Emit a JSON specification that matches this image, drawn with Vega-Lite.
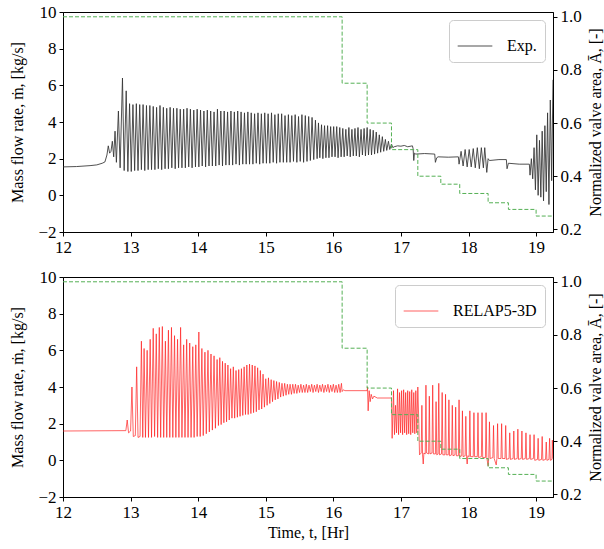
{
  "$schema": "https://vega.github.io/schema/vega-lite/v6.json",
  "padding": {"left": 9, "top": 2, "right": 2, "bottom": 5},
  "spacing": 11,
  "config": {
    "font": "Liberation Serif",
    "style": {"guide-label": {"font": "Liberation Serif", "fontSize": 16}, "guide-title": {"font": "Liberation Serif", "fontSize": 16}},
    "view": {"stroke": "black", "strokeWidth": 1},
    "axis": {"labelFont": "Liberation Serif", "titleFont": "Liberation Serif", "domainColor": "black", "domainWidth": 1, "tickColor": "black", "tickSize": 4, "tickWidth": 1, "labelFontSize": 16, "labelColor": "black", "titleFontSize": 16, "titleFontWeight": "normal", "titleColor": "black", "labelFlush": false, "labelOverlap": false, "grid": false, "labelPadding": 3},
    "legend": {"orient": "top-right", "offset": 8, "strokeColor": "#cccccc", "cornerRadius": 4, "fillColor": "white", "padding": 8, "labelFontSize": 16, "labelFont": "Liberation Serif", "labelColor": "black", "symbolType": "stroke", "symbolSize": 1200, "symbolStrokeWidth": 1.2, "labelOffset": 14}
  },
  "resolve": {"scale": {"color": "independent"}, "legend": {"color": "independent"}},
  "datasets": {
    "valve": [{"t":12,"a":1.0},{"t":16.13,"a":0.75},{"t":16.5,"a":0.6},{"t":16.86,"a":0.5},{"t":17.25,"a":0.4},{"t":17.59,"a":0.37},{"t":17.87,"a":0.335},{"t":18.29,"a":0.3},{"t":18.59,"a":0.275},{"t":19.0,"a":0.25},{"t":19.25,"a":0.25}],
    "exp": [{"t":12.0,"m":1.55},{"t":12.2,"m":1.57},{"t":12.4,"m":1.62},{"t":12.5,"m":1.66},{"t":12.58,"m":1.75},{"t":12.62,"m":1.82},{"t":12.65,"m":2.2},{"t":12.67,"m":2.7},{"t":12.69,"m":2.3},{"t":12.71,"m":2.4},{"t":12.73,"m":2.95},{"t":12.75,"m":2.1},{"t":12.77,"m":3.5},{"t":12.79,"m":1.8},{"t":12.82,"m":4.6},{"t":12.845,"m":1.5},{"t":12.88,"m":6.4},{"t":12.905,"m":1.35},{"t":12.935,"m":5.7},{"t":12.96,"m":1.3},
      {"t":12.985,"m":5.0},{"t":13.01,"m":1.3},{"t":13.035,"m":4.95},{"t":13.06,"m":1.35},{"t":13.085,"m":5.0},{"t":13.11,"m":1.35},{"t":13.135,"m":4.95},{"t":13.16,"m":1.4},{"t":13.185,"m":4.95},{"t":13.21,"m":1.35},{"t":13.235,"m":4.9},{"t":13.26,"m":1.4},{"t":13.285,"m":4.9},{"t":13.31,"m":1.4},{"t":13.335,"m":4.85},{"t":13.36,"m":1.4},{"t":13.385,"m":4.8},{"t":13.41,"m":1.45},{"t":13.435,"m":4.9},{"t":13.46,"m":1.4},{"t":13.485,"m":4.8},{"t":13.51,"m":1.45},{"t":13.535,"m":4.75},{"t":13.56,"m":1.45},{"t":13.585,"m":4.8},{"t":13.61,"m":1.5},{"t":13.635,"m":4.75},{"t":13.66,"m":1.45},{"t":13.685,"m":4.75},{"t":13.71,"m":1.5},{"t":13.735,"m":4.7},{"t":13.76,"m":1.5},{"t":13.785,"m":4.7},{"t":13.81,"m":1.5},{"t":13.835,"m":4.75},{"t":13.86,"m":1.55},{"t":13.885,"m":4.7},{"t":13.91,"m":1.5},{"t":13.935,"m":4.65},{"t":13.96,"m":1.55},{"t":13.985,"m":4.7},{"t":14.01,"m":1.55},{"t":14.035,"m":4.65},{"t":14.06,"m":1.6},{"t":14.085,"m":4.6},{"t":14.11,"m":1.55},{"t":14.135,"m":4.65},{"t":14.16,"m":1.6},{"t":14.185,"m":4.6},{"t":14.21,"m":1.6},{"t":14.235,"m":4.55},{"t":14.26,"m":1.6},{"t":14.285,"m":4.7},{"t":14.31,"m":1.65},{"t":14.335,"m":4.6},{"t":14.36,"m":1.6},{"t":14.385,"m":4.6},{"t":14.41,"m":1.65},{"t":14.435,"m":4.55},{"t":14.46,"m":1.65},{"t":14.485,"m":4.6},{"t":14.51,"m":1.65},{"t":14.535,"m":4.55},{"t":14.56,"m":1.7},{"t":14.585,"m":4.6},{"t":14.61,"m":1.65},{"t":14.635,"m":4.55},{"t":14.66,"m":1.7},{"t":14.685,"m":4.5},{"t":14.71,"m":1.7},{"t":14.735,"m":4.55},{"t":14.76,"m":1.7},{"t":14.785,"m":4.5},{"t":14.81,"m":1.7},{"t":14.835,"m":4.45},{"t":14.86,"m":1.75},{"t":14.885,"m":4.5},{"t":14.91,"m":1.7},{"t":14.935,"m":4.45},{"t":14.96,"m":1.75},{"t":14.985,"m":4.5},{"t":15.01,"m":1.75},{"t":15.035,"m":4.45},{"t":15.06,"m":1.75},{"t":15.085,"m":4.5},{"t":15.11,"m":1.8},{"t":15.135,"m":4.4},{"t":15.16,"m":1.75},{"t":15.185,"m":4.45},{"t":15.21,"m":1.8},{"t":15.235,"m":4.45},{"t":15.26,"m":1.8},{"t":15.285,"m":4.35},{"t":15.31,"m":1.8},{"t":15.335,"m":4.4},{"t":15.36,"m":1.8},{"t":15.385,"m":4.35},{"t":15.41,"m":1.85},{"t":15.435,"m":4.4},{"t":15.46,"m":1.8},{"t":15.485,"m":4.3},{"t":15.51,"m":1.85},{"t":15.535,"m":4.4},{"t":15.56,"m":1.8},{"t":15.585,"m":4.35},{"t":15.61,"m":1.85},{"t":15.635,"m":4.3},{"t":15.66,"m":1.9},{"t":15.685,"m":4.25},{"t":15.71,"m":1.95},{"t":15.735,"m":4.1},{"t":15.76,"m":2.0},{"t":15.78,"m":3.95},{"t":15.8,"m":2.05},{"t":15.825,"m":3.85},{"t":15.845,"m":2.0},{"t":15.87,"m":3.8},{"t":15.89,"m":2.05},{"t":15.915,"m":3.8},{"t":15.935,"m":2.05},{"t":15.96,"m":3.75},{"t":15.98,"m":2.1},{"t":16.005,"m":3.75},{"t":16.025,"m":2.1},{"t":16.05,"m":3.75},{"t":16.07,"m":2.05},{"t":16.095,"m":3.7},{"t":16.115,"m":2.1},{"t":16.14,"m":3.65},{"t":16.16,"m":2.1},{"t":16.185,"m":3.6},{"t":16.205,"m":2.15},{"t":16.23,"m":3.7},{"t":16.25,"m":2.1},{"t":16.275,"m":3.6},{"t":16.295,"m":2.15},{"t":16.32,"m":3.65},{"t":16.34,"m":2.15},{"t":16.365,"m":3.7},{"t":16.385,"m":2.1},{"t":16.41,"m":3.6},{"t":16.43,"m":2.2},{"t":16.455,"m":3.65},{"t":16.475,"m":2.15},{"t":16.5,"m":3.7},{"t":16.52,"m":2.2},{"t":16.545,"m":3.6},{"t":16.565,"m":2.2},{"t":16.59,"m":3.55},{"t":16.61,"m":2.25},{"t":16.635,"m":3.45},{"t":16.655,"m":2.3},{"t":16.68,"m":3.3},{"t":16.7,"m":2.35},{"t":16.725,"m":3.2},{"t":16.745,"m":2.4},{"t":16.77,"m":3.05},{"t":16.79,"m":2.45},{"t":16.815,"m":2.95},{"t":16.835,"m":2.5},{"t":16.86,"m":2.8},{"t":16.88,"m":2.6},
      {"t":16.9,"m":2.65},{"t":16.95,"m":2.7},{"t":17.0,"m":2.68},{"t":17.05,"m":2.72},{"t":17.1,"m":2.65},{"t":17.17,"m":2.7},{"t":17.18,"m":2.55},{"t":17.19,"m":1.9},{"t":17.2,"m":2.3},{"t":17.22,"m":2.25},{"t":17.35,"m":2.28},{"t":17.5,"m":2.25},{"t":17.51,"m":1.8},{"t":17.53,"m":2.05},{"t":17.55,"m":2.1},{"t":17.7,"m":2.08},{"t":17.85,"m":2.1},{"t":17.86,"m":1.7},{"t":17.89,"m":2.4},{"t":17.92,"m":1.6},{"t":17.95,"m":2.5},{"t":17.98,"m":1.55},{"t":18.01,"m":2.5},{"t":18.04,"m":1.55},{"t":18.07,"m":2.55},{"t":18.1,"m":1.5},{"t":18.13,"m":2.6},{"t":18.16,"m":1.45},{"t":18.19,"m":2.6},{"t":18.22,"m":1.5},{"t":18.24,"m":2.6},{"t":18.27,"m":1.25},{"t":18.29,"m":2.0},{"t":18.31,"m":1.9},{"t":18.45,"m":1.95},{"t":18.56,"m":1.95},{"t":18.57,"m":1.45},{"t":18.59,"m":1.75},{"t":18.75,"m":1.7},{"t":18.9,"m":1.7},{"t":18.91,"m":1.1},{"t":18.93,"m":2.0},{"t":18.95,"m":0.9},{"t":18.97,"m":2.6},{"t":18.99,"m":0.3},{"t":19.01,"m":3.3},{"t":19.03,"m":0.0},{"t":19.05,"m":3.0},{"t":19.07,"m":-0.1},{"t":19.09,"m":3.5},{"t":19.11,"m":-0.3},{"t":19.13,"m":3.8},{"t":19.15,"m":0.2},{"t":19.17,"m":4.5},{"t":19.19,"m":-0.5},{"t":19.21,"m":5.2},{"t":19.23,"m":0.8},{"t":19.25,"m":6.3}],
    "relap": [{"t":12.0,"m":1.6},{"t":12.93,"m":1.62},{"t":12.95,"m":2.2},{"t":12.97,"m":1.5},{"t":13.0,"m":1.6},{"t":13.02,"m":4.0},{"t":13.04,"m":1.3},{"t":13.07,"m":1.35},{"t":13.09,"m":5.1},{"t":13.11,"m":1.25},{"t":13.14,"m":1.3},{"t":13.16,"m":6.5},{"t":13.18,"m":1.25},{"t":13.2,"m":6.1},{"t":13.22,"m":1.25},{"t":13.245,"m":6.0},{"t":13.265,"m":1.25},{"t":13.29,"m":6.6},{"t":13.31,"m":1.25},{"t":13.335,"m":7.2},{"t":13.355,"m":1.3},{"t":13.38,"m":6.9},{"t":13.4,"m":1.25},{"t":13.425,"m":7.25},{"t":13.445,"m":1.25},{"t":13.47,"m":7.3},{"t":13.49,"m":1.25},{"t":13.515,"m":6.5},{"t":13.535,"m":1.25},{"t":13.56,"m":7.1},{"t":13.58,"m":1.25},{"t":13.605,"m":7.25},{"t":13.625,"m":1.25},{"t":13.65,"m":6.8},{"t":13.67,"m":1.25},{"t":13.695,"m":6.6},{"t":13.715,"m":1.25},{"t":13.74,"m":7.25},{"t":13.76,"m":1.25},{"t":13.785,"m":6.3},{"t":13.805,"m":1.25},{"t":13.83,"m":6.6},{"t":13.85,"m":1.25},{"t":13.875,"m":6.4},{"t":13.895,"m":1.25},{"t":13.92,"m":6.2},{"t":13.94,"m":1.25},{"t":13.965,"m":6.3},{"t":13.985,"m":1.3},{"t":14.01,"m":7.0},{"t":14.03,"m":1.3},{"t":14.055,"m":6.1},{"t":14.075,"m":1.35},{"t":14.1,"m":5.9},{"t":14.12,"m":1.45},{"t":14.145,"m":6.0},{"t":14.165,"m":1.55},{"t":14.19,"m":5.8},{"t":14.21,"m":1.65},{"t":14.235,"m":5.7},{"t":14.255,"m":1.75},{"t":14.28,"m":5.5},{"t":14.3,"m":1.9},{"t":14.32,"m":5.6},{"t":14.34,"m":1.95},{"t":14.36,"m":5.4},{"t":14.38,"m":2.05},{"t":14.4,"m":5.3},{"t":14.42,"m":2.1},{"t":14.44,"m":5.2},{"t":14.46,"m":2.2},{"t":14.48,"m":5.0},{"t":14.5,"m":2.3},{"t":14.52,"m":5.1},{"t":14.54,"m":2.3},{"t":14.56,"m":4.9},{"t":14.58,"m":2.35},{"t":14.6,"m":4.95},{"t":14.62,"m":2.4},{"t":14.64,"m":5.0},{"t":14.66,"m":2.45},{"t":14.68,"m":5.1},{"t":14.7,"m":2.5},{"t":14.72,"m":5.2},{"t":14.74,"m":2.5},{"t":14.76,"m":5.25},{"t":14.78,"m":2.55},{"t":14.8,"m":5.2},{"t":14.82,"m":2.6},{"t":14.84,"m":5.15},{"t":14.86,"m":2.65},{"t":14.88,"m":5.05},{"t":14.9,"m":2.75},{"t":14.92,"m":4.9},{"t":14.94,"m":2.8},{"t":14.96,"m":4.7},{"t":14.98,"m":2.9},{"t":15.0,"m":4.45},{"t":15.02,"m":3.0},{"t":15.04,"m":4.5},{"t":15.06,"m":3.1},{"t":15.08,"m":4.4},{"t":15.1,"m":3.2},{"t":15.12,"m":4.35},{"t":15.14,"m":3.3},{"t":15.16,"m":4.3},{"t":15.18,"m":3.35},{"t":15.2,"m":4.25},{"t":15.22,"m":3.45},{"t":15.24,"m":4.2},{"t":15.26,"m":3.5},{"t":15.28,"m":4.2},{"t":15.3,"m":3.55},{"t":15.32,"m":4.15},{"t":15.34,"m":3.6},{"t":15.36,"m":4.15},{"t":15.38,"m":3.6},{"t":15.4,"m":4.15},{"t":15.42,"m":3.65},{"t":15.44,"m":4.15},{"t":15.46,"m":3.65},{"t":15.48,"m":4.1},{"t":15.5,"m":3.7},{"t":15.52,"m":4.15},{"t":15.54,"m":3.7},{"t":15.56,"m":4.1},{"t":15.58,"m":3.7},{"t":15.6,"m":4.15},{"t":15.62,"m":3.7},{"t":15.64,"m":4.1},{"t":15.66,"m":3.75},{"t":15.68,"m":4.15},{"t":15.7,"m":3.7},{"t":15.72,"m":4.1},{"t":15.74,"m":3.75},{"t":15.76,"m":4.15},{"t":15.78,"m":3.7},{"t":15.8,"m":4.1},{"t":15.82,"m":3.75},{"t":15.84,"m":4.15},{"t":15.86,"m":3.7},{"t":15.88,"m":4.1},{"t":15.9,"m":3.75},{"t":15.92,"m":4.15},{"t":15.94,"m":3.7},{"t":15.96,"m":4.1},{"t":15.98,"m":3.75},{"t":16.0,"m":4.15},{"t":16.02,"m":3.7},{"t":16.04,"m":4.1},{"t":16.06,"m":3.7},{"t":16.08,"m":4.15},{"t":16.1,"m":3.7},{"t":16.12,"m":4.2},{"t":16.13,"m":3.75},{"t":16.15,"m":3.85},{"t":16.17,"m":3.8},{"t":16.5,"m":3.8},{"t":16.505,"m":4.0},{"t":16.515,"m":2.7},{"t":16.53,"m":3.8},{"t":16.545,"m":3.2},{"t":16.56,"m":3.6},{"t":16.58,"m":3.35},{"t":16.6,"m":3.5},{"t":16.65,"m":3.4},{"t":16.86,"m":3.4},{"t":16.87,"m":1.2},
      {"t":16.89,"m":3.8},{"t":16.905,"m":1.4},{"t":16.92,"m":3.0},{"t":16.935,"m":1.5},{"t":16.95,"m":3.9},{"t":16.965,"m":1.4},{"t":16.98,"m":3.7},{"t":16.995,"m":1.5},{"t":17.01,"m":3.8},{"t":17.025,"m":1.4},{"t":17.04,"m":3.85},{"t":17.055,"m":1.5},{"t":17.07,"m":3.7},{"t":17.085,"m":1.4},{"t":17.1,"m":3.8},{"t":17.115,"m":1.45},{"t":17.13,"m":3.75},{"t":17.145,"m":1.4},{"t":17.16,"m":3.85},{"t":17.175,"m":1.5},{"t":17.19,"m":3.7},{"t":17.205,"m":1.45},{"t":17.22,"m":3.8},{"t":17.235,"m":1.5},{"t":17.25,"m":4.0},{"t":17.265,"m":2.0},{"t":17.275,"m":0.3},{"t":17.3,"m":0.4},{"t":17.31,"m":3.0},{"t":17.32,"m":0.3},{"t":17.33,"m":-0.2},{"t":17.34,"m":0.4},{"t":17.36,"m":0.35},{"t":17.37,"m":4.1},{"t":17.38,"m":0.4},{"t":17.41,"m":0.35},{"t":17.42,"m":3.5},{"t":17.43,"m":0.35},{"t":17.46,"m":0.4},{"t":17.47,"m":4.1},{"t":17.48,"m":0.35},{"t":17.51,"m":0.35},{"t":17.52,"m":3.2},{"t":17.53,"m":0.3},{"t":17.55,"m":0.35},{"t":17.56,"m":4.2},{"t":17.57,"m":0.3},{"t":17.6,"m":0.35},{"t":17.61,"m":3.7},{"t":17.62,"m":0.3},{"t":17.65,"m":0.3},{"t":17.66,"m":3.6},{"t":17.67,"m":0.3},{"t":17.7,"m":0.3},{"t":17.71,"m":3.3},{"t":17.72,"m":0.25},{"t":17.75,"m":0.3},{"t":17.76,"m":3.0},{"t":17.77,"m":0.25},{"t":17.8,"m":0.3},{"t":17.81,"m":2.9},{"t":17.82,"m":0.25},{"t":17.85,"m":0.25},{"t":17.86,"m":3.3},{"t":17.87,"m":0.2},{"t":17.9,"m":0.25},{"t":17.91,"m":2.7},{"t":17.92,"m":0.2},{"t":17.95,"m":0.25},{"t":17.96,"m":2.4},{"t":17.97,"m":0.2},{"t":17.98,"m":-0.2},{"t":17.99,"m":0.25},{"t":18.01,"m":0.2},{"t":18.02,"m":2.7},{"t":18.03,"m":0.2},{"t":18.07,"m":0.2},{"t":18.08,"m":2.6},{"t":18.09,"m":0.2},{"t":18.13,"m":0.2},{"t":18.14,"m":2.6},{"t":18.15,"m":0.15},{"t":18.19,"m":0.2},{"t":18.2,"m":2.6},{"t":18.21,"m":0.15},{"t":18.25,"m":0.15},{"t":18.26,"m":2.6},{"t":18.27,"m":0.15},{"t":18.29,"m":-0.3},{"t":18.3,"m":0.15},{"t":18.31,"m":2.1},{"t":18.32,"m":0.1},{"t":18.36,"m":0.15},{"t":18.37,"m":1.9},{"t":18.38,"m":0.1},{"t":18.41,"m":-0.25},{"t":18.42,"m":0.1},{"t":18.43,"m":2.0},{"t":18.44,"m":0.1},{"t":18.48,"m":0.1},{"t":18.49,"m":2.0},{"t":18.5,"m":0.1},{"t":18.54,"m":0.1},{"t":18.55,"m":1.9},{"t":18.56,"m":0.05},{"t":18.6,"m":0.1},{"t":18.61,"m":1.5},{"t":18.62,"m":0.05},{"t":18.66,"m":0.1},{"t":18.67,"m":1.6},{"t":18.68,"m":0.05},{"t":18.72,"m":0.1},{"t":18.73,"m":1.7},{"t":18.74,"m":0.05},{"t":18.78,"m":0.1},{"t":18.79,"m":1.6},{"t":18.8,"m":0.05},{"t":18.84,"m":0.1},{"t":18.85,"m":1.5},{"t":18.86,"m":0.05},{"t":18.9,"m":0.1},{"t":18.91,"m":1.4},{"t":18.92,"m":0.05},{"t":18.96,"m":0.1},{"t":18.97,"m":1.4},{"t":18.98,"m":0.0},{"t":19.02,"m":0.05},{"t":19.03,"m":1.2},{"t":19.04,"m":0.0},{"t":19.08,"m":0.05},{"t":19.09,"m":1.3},{"t":19.1,"m":0.0},{"t":19.14,"m":0.05},{"t":19.15,"m":1.0},{"t":19.16,"m":0.0},{"t":19.19,"m":0.05},{"t":19.2,"m":1.2},{"t":19.21,"m":0.0},{"t":19.235,"m":0.05},{"t":19.24,"m":1.1},{"t":19.25,"m":0.1}]
  },
  "vconcat": [
    {
      "width": 490, "height": 220,
      "resolve": {"scale": {"y": "independent"}},
      "layer": [
        {
          "data": {"name": "exp"},
          "mark": {"type": "line", "strokeWidth": 1, "opacity": 0.85, "clip": true},
          "encoding": {
            "x": {"field": "t", "type": "quantitative", "scale": {"domain": [12, 19.25], "nice": false, "zero": false}, "axis": {"values": [12,13,14,15,16,17,18,19], "format": "d", "title": null, "labelFont": "Liberation Serif", "labelFontSize": 17}},
            "y": {"field": "m", "type": "quantitative", "scale": {"domain": [-2, 10], "nice": false, "zero": false}, "axis": {"orient": "left", "values": [-2,0,2,4,6,8,10], "title": "Mass flow rate, ṁ, [kg/s]", "titlePadding": 12, "labelFont": "Liberation Serif", "labelFontSize": 17, "titleFont": "Liberation Serif"}},
            "color": {"datum": "Exp.", "type": "nominal", "scale": {"domain": ["Exp."], "range": ["#333333"]}, "legend": {"title": null}}
          }
        },
        {
          "data": {"name": "valve"},
          "mark": {"type": "line", "interpolate": "step-after", "strokeWidth": 1, "strokeDash": [4, 2], "color": "#55b055", "clip": true},
          "encoding": {
            "x": {"field": "t", "type": "quantitative"},
            "y": {"field": "a", "type": "quantitative", "scale": {"domain": [0.19, 1.018], "nice": false, "zero": false}, "axis": {"orient": "right", "values": [0.2,0.4,0.6,0.8,1.0], "format": ".1f", "title": "Normalized valve area, Ā, [-]", "titleAngle": 270, "titleBaseline": "top", "titlePadding": 6, "labelFont": "Liberation Serif", "labelFontSize": 17, "titleFont": "Liberation Serif"}}
          }
        }
      ]
    },
    {
      "width": 490, "height": 220,
      "resolve": {"scale": {"y": "independent"}},
      "layer": [
        {
          "data": {"name": "relap"},
          "mark": {"type": "line", "strokeWidth": 1, "opacity": 0.7, "clip": true},
          "encoding": {
            "x": {"field": "t", "type": "quantitative", "scale": {"domain": [12, 19.25], "nice": false, "zero": false}, "axis": {"values": [12,13,14,15,16,17,18,19], "format": "d", "title": "Time, t, [Hr]", "labelFont": "Liberation Serif", "labelFontSize": 17, "titleFont": "Liberation Serif"}},
            "y": {"field": "m", "type": "quantitative", "scale": {"domain": [-2, 10], "nice": false, "zero": false}, "axis": {"orient": "left", "values": [-2,0,2,4,6,8,10], "title": "Mass flow rate, ṁ, [kg/s]", "titlePadding": 12, "labelFont": "Liberation Serif", "labelFontSize": 17, "titleFont": "Liberation Serif"}},
            "color": {"datum": "RELAP5-3D", "type": "nominal", "scale": {"domain": ["RELAP5-3D"], "range": ["#ff2222"]}, "legend": {"title": null}}
          }
        },
        {
          "data": {"name": "valve"},
          "mark": {"type": "line", "interpolate": "step-after", "strokeWidth": 1, "strokeDash": [4, 2], "color": "#55b055", "clip": true},
          "encoding": {
            "x": {"field": "t", "type": "quantitative"},
            "y": {"field": "a", "type": "quantitative", "scale": {"domain": [0.19, 1.018], "nice": false, "zero": false}, "axis": {"orient": "right", "values": [0.2,0.4,0.6,0.8,1.0], "format": ".1f", "title": "Normalized valve area, Ā, [-]", "titleAngle": 270, "titleBaseline": "top", "titlePadding": 6, "labelFont": "Liberation Serif", "labelFontSize": 17, "titleFont": "Liberation Serif"}}
          }
        }
      ]
    }
  ]
}
